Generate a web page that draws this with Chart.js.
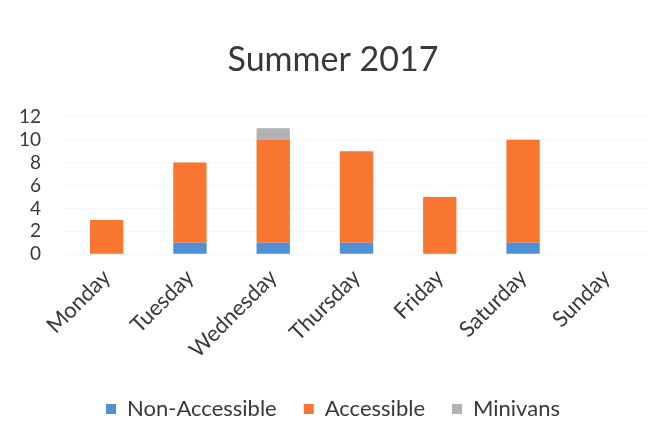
<!DOCTYPE html>
<html>
<head>
<meta charset="utf-8">
<script src="https://cdn.jsdelivr.net/npm/chart.js@4"></script>
<style>
  html, body { margin: 0; padding: 0; background: #ffffff; }
  #wrap { width: 669px; height: 435px; }
</style>
</head>
<body>
<div id="wrap"><canvas id="chart" width="669" height="435"></canvas></div>
<script>
// Rides per weekday, summer 2017
const days = ['Monday', 'Tuesday', 'Wednesday', 'Thursday', 'Friday', 'Saturday', 'Sunday'];
const nonAccessible = [0, 1, 1, 1, 0, 1, 0];
const accessible = [3, 7, 9, 8, 5, 9, 0];
const minivans = [0, 0, 1, 0, 0, 0, 0];
const yTicks = [0, 2, 4, 6, 8, 10, 12];

const textColor = '#383838';
const fontFamily = "Lato, 'Open Sans', 'Liberation Sans', sans-serif";

new Chart(document.getElementById('chart'), {
  type: 'bar',
  data: {
    labels: days,
    datasets: [
      { label: 'Non-Accessible', data: nonAccessible, backgroundColor: '#4F8FD6' },
      { label: 'Accessible', data: accessible, backgroundColor: '#F8762F' },
      { label: 'Minivans', data: minivans, backgroundColor: '#B3B1B6' }
    ]
  },
  options: {
    responsive: false,
    animation: false,
    layout: { padding: { left: 18, right: 21, top: 0, bottom: 5 } },
    datasets: { bar: { barPercentage: 0.8, categoryPercentage: 0.5 } },
    plugins: {
      title: {
        display: true,
        text: 'Summer 2017',
        color: textColor,
        font: { family: fontFamily, size: 34, weight: 'normal' },
        padding: { top: 40, bottom: 36 }
      },
      legend: {
        position: 'bottom',
        labels: {
          color: textColor,
          font: { family: fontFamily, size: 22 },
          boxWidth: 10,
          boxHeight: 10,
          padding: 27
        }
      },
      tooltip: { enabled: false }
    },
    scales: {
      x: {
        stacked: true,
        grid: { display: false },
        border: { display: false },
        // let the first rotated label hang into the left margin; keep some room below
        afterFit: (scale) => { scale.paddingLeft = 0; scale.paddingRight = 0; scale.height += 6; },
        ticks: {
          color: textColor,
          font: { family: fontFamily, size: 22 },
          minRotation: 45,
          maxRotation: 45,
          padding: 2
        }
      },
      y: {
        stacked: true,
        min: 0,
        max: 12,
        afterBuildTicks: (axis) => { axis.ticks = yTicks.map(v => ({ value: v })); },
        afterFit: (scale) => { scale.width = 47; },
        grid: { color: '#f6f6f6', drawTicks: false },
        border: { display: false },
        ticks: {
          color: textColor,
          font: { family: fontFamily, size: 19 },
          padding: 24,
          autoSkip: false
        }
      }
    }
  }
});
</script>
</body>
</html>
